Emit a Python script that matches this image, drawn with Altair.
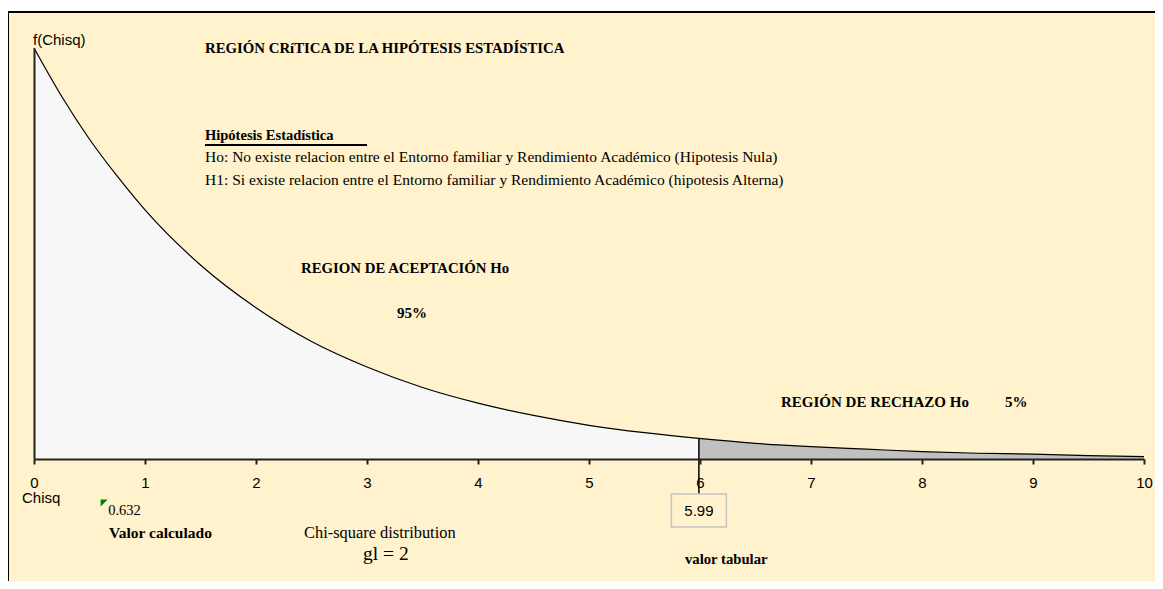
import altair as alt
import pandas as pd

# ---- data ----
chisq = [0, 0.25, 0.5, 0.75, 1, 1.5, 2, 2.5, 3, 3.5, 4, 4.5, 5, 5.5, 5.99,
         6.5, 7, 7.5, 8, 8.5, 9, 9.5, 10]
density = [0.500, 0.441, 0.389, 0.344, 0.303, 0.236, 0.184, 0.143, 0.112, 0.087,
           0.068, 0.053, 0.041, 0.032, 0.025, 0.019, 0.015, 0.012, 0.009, 0.007,
           0.006, 0.004, 0.003]
critical_value = 5.99
critical_density = 0.025
calc_value = 0.632
x_ticks = [0, 1, 2, 3, 4, 5, 6, 7, 8, 9, 10]

title_text = "REGIÓN CRíTICA DE LA HIPÓTESIS ESTADÍSTICA"
hyp_title = "Hipótesis Estadística"
ho_text = "Ho: No existe relacion entre el Entorno familiar y Rendimiento Académico (Hipotesis Nula)"
h1_text = "H1: Si existe relacion entre el Entorno familiar y Rendimiento Académico (hipotesis Alterna)"

CREAM = "#FFF2CC"
SERIF = "Liberation Serif"
SANS = "Liberation Sans"
W, H = 1110, 411

df = pd.DataFrame({"x": chisq, "f": density})
df_acc = df[df.x <= critical_value]
df_rej = df[df.x >= critical_value]

xs = alt.Scale(domain=[0, 10], nice=False, zero=False)
ys = alt.Scale(domain=[0, 0.5], nice=False)
x_axis = alt.Axis(values=x_ticks, title=None, grid=False, domainColor="#222", domainWidth=2,
                  tickColor="#222", tickWidth=2, tickSize=5, labelFont=SANS, labelFontSize=15,
                  labelColor="#000", labelPadding=11, labelFlush=False, labelOverlap=False,
                  zindex=2)
y_axis = alt.Axis(title=None, labels=False, ticks=False, grid=False,
                  domainColor="#222", domainWidth=2, zindex=2)
X = alt.X("x:Q", scale=xs, axis=x_axis)
Y = alt.Y("f:Q", scale=ys, axis=y_axis)
one = pd.DataFrame({"k": [0]})

frame = alt.Chart(one).mark_rect(fill=CREAM, stroke="#000", strokeWidth=2).encode(
    x=alt.value(-26), y=alt.value(-36), x2=alt.value(1300), y2=alt.value(800))

acc = alt.Chart(df_acc).mark_area(color="#F7F7F7", interpolate="monotone", opacity=1).encode(x=X, y=Y)
rej = alt.Chart(df_rej).mark_area(color="#C0C0C0", interpolate="monotone", opacity=1).encode(x=X, y=Y)
curve = alt.Chart(df).mark_line(color="#000", strokeWidth=1.2, interpolate="monotone").encode(x=X, y=Y)

crit_df = pd.DataFrame({"x": [critical_value], "f": [critical_density], "t": [f"{critical_value:.2f}"]})
crit_rule = alt.Chart(crit_df).mark_rule(color="#000", strokeWidth=1.5).encode(
    x=X, y=Y, y2=alt.value(446))
crit_box = alt.Chart(crit_df).mark_point(shape="M-1,-0.6L1,-0.6L1,0.6L-1,0.6Z", size=3025,
                                         fill=CREAM, stroke="#C4C4C4", strokeWidth=1.5,
                                         opacity=1, fillOpacity=1).encode(x=X, y=alt.value(462.5))
crit_text = alt.Chart(crit_df).mark_text(font=SANS, fontSize=15, color="#000", align="center",
                                         baseline="middle").encode(x=X, y=alt.value(463), text="t:N")

calc_df = pd.DataFrame({"x": [calc_value], "t": [f"{calc_value:.3f}"]})
calc_mark = alt.Chart(calc_df).mark_point(shape="M-1,-1L1,-1L-1,1Z", size=49, filled=True,
                                          color="#008000", opacity=1).encode(x=X, y=alt.value(455))
calc_text = alt.Chart(calc_df).mark_text(font=SERIF, fontSize=14.5, color="#000", align="left",
                                         baseline="middle", dx=4).encode(x=X, y=alt.value(463), text="t:N")


def label(text, x, y, size=14, bold=False, font=SERIF):
    d = pd.DataFrame({"t": [text]})
    return alt.Chart(d).mark_text(font=font, fontSize=size, fontWeight="bold" if bold else "normal",
                                  color="#000", align="left", baseline="middle").encode(
        x=alt.value(x), y=alt.value(y), text="t:N")


underline = alt.Chart(one).mark_rule(color="#000", strokeWidth=2).encode(
    x=alt.value(171), x2=alt.value(333), y=alt.value(97))

texts = [
    label("f(Chisq)", -1, -8, 15, font=SANS),
    label("Chisq", -12, 450, 15, font=SANS),
    label(title_text, 171, 0.5, 14.8, True),
    label(hyp_title, 171, 88, 14.5, True),
    label(ho_text, 171, 109, 15.5),
    label(h1_text, 171, 132, 15.5),
    label("REGION DE ACEPTACIÓN Ho", 267, 221, 14.8, True),
    label("95%", 363, 265, 15, True),
    label("REGIÓN DE RECHAZO Ho", 747, 354, 15, True),
    label("5%", 971, 354, 15, True),
    label("Valor calculado", 75, 485, 15.5, True),
    label("Chi-square distribution", 270, 485, 16.4),
    label("gl = 2", 329, 506, 19.5),
    label("valor tabular", 651, 512, 14.7, True),
]

chart = alt.layer(frame, acc, rej, curve, crit_rule, crit_box, crit_text, calc_mark, calc_text,
                  underline, *texts).properties(
    width=W, height=H,
    autosize=alt.AutoSizeParams(type="none"),
    padding={"left": 26, "top": 40, "right": 11, "bottom": 122},
    background="#FFFFFF",
).configure_view(stroke=None)

chart.save("out.html", embed_options={"renderer": "svg", "actions": False})
